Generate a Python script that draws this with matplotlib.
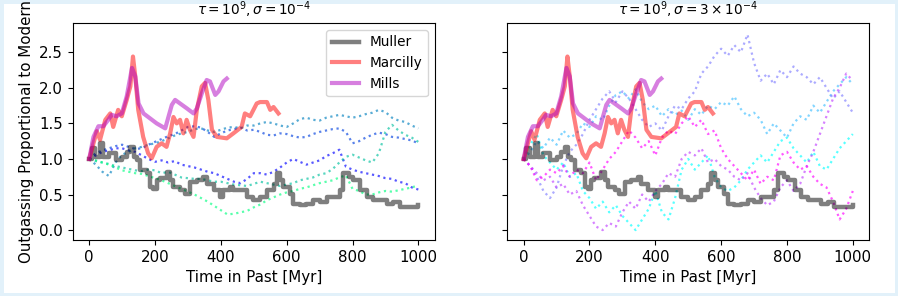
import numpy as np
import matplotlib
matplotlib.use('Agg')
import matplotlib.pyplot as plt

# time grid of the stochastic runs (Myr), one value every 20 Myr
t_run = np.linspace(0, 1000, 51)

# left panel: sigma = 1e-4
left_b2 = [1.0, 1.05, 1.1, 1.12, 1.15, 1.15, 1.12, 1.1, 1.05, 1.0, 0.96, 0.98, 0.95, 0.97, 0.92, 0.9, 0.88, 0.85,
           0.82, 0.8, 0.76, 0.72, 0.68, 0.66, 0.72, 0.8, 0.8, 0.78, 0.82, 0.88, 0.95, 1.0, 0.96, 0.92, 0.95, 0.98,
           1.04, 1.08, 1.13, 0.89, 0.85, 0.82, 0.8, 0.78, 0.76, 0.73, 0.72, 0.68, 0.66, 0.6, 0.57]
left_b1 = [1.0, 1.08, 1.12, 1.15, 1.18, 1.2, 1.17, 1.14, 1.15, 1.2, 1.24, 1.28, 1.32, 1.35, 1.4, 1.45, 1.46, 1.44,
           1.38, 1.31, 1.36, 1.4, 1.42, 1.44, 1.4, 1.41, 1.38, 1.34, 1.33, 1.36, 1.35, 1.32, 1.3, 1.31, 1.35, 1.38,
           1.4, 1.42, 1.43, 1.38, 1.22, 1.25, 1.3, 1.34, 1.37, 1.35, 1.31, 1.3, 1.28, 1.26, 1.22]
left_lb = [1.0, 0.92, 0.82, 0.76, 0.95, 1.06, 1.1, 1.15, 1.17, 1.2, 1.22, 1.25, 1.29, 1.33, 1.36, 1.38, 1.42, 1.43,
           1.4, 1.38, 1.41, 1.44, 1.45, 1.43, 1.47, 1.47, 1.5, 1.52, 1.5, 1.47, 1.45, 1.5, 1.56, 1.58, 1.55, 1.54,
           1.58, 1.6, 1.62, 1.6, 1.58, 1.6, 1.63, 1.65, 1.69, 1.66, 1.58, 1.54, 1.52, 1.47, 1.43]
left_ga = [1.0, 0.97, 0.95, 0.93, 0.9, 0.88, 0.86, 0.84, 0.83, 0.85, 0.84, 0.8, 0.82, 0.78, 0.74, 0.73, 0.72, 0.72,
           0.7, 0.68, 0.68, 0.66, 0.64, 0.63, 0.62, 0.65, 0.68, 0.66, 0.64, 0.62, 0.64, 0.66, 0.7, 0.72, 0.74, 0.78,
           0.8, 0.86, 0.95, 1.03, 1.06, 1.02, 0.98, 0.95, 1.08, 1.38, 1.48, 1.4, 1.34, 1.3, 1.24]
left_gb = [1.0, 0.98, 0.95, 0.92, 0.88, 0.84, 0.82, 0.8, 0.79, 0.76, 0.73, 0.7, 0.66, 0.62, 0.58, 0.54, 0.5, 0.45,
           0.4, 0.34, 0.28, 0.22, 0.23, 0.25, 0.27, 0.32, 0.36, 0.42, 0.46, 0.5, 0.53, 0.55, 0.58, 0.6, 0.63, 0.66,
           0.68, 0.7, 0.74, 0.77, 0.58, 0.55, 0.5, 0.5, 0.53, 0.55, 0.54, 0.56, 0.58, 0.6, 0.63]

# right panel: sigma = 3e-4
right_c = [1.0, 1.2, 1.35, 1.05, 0.95, 0.85, 0.95, 0.75, 0.8, 0.55, 0.45, 0.3, 0.4, 0.25, 0.35, 0.2, 0.1, 0.0,
           0.15, 0.3, 0.55, 0.25, 0.15, 0.45, 0.85, 1.0, 0.85, 0.95, 1.05, 0.75, 0.6, 0.55, 0.6, 0.7, 0.85, 0.95,
           1.05, 0.95, 1.1, 1.25, 1.3, 1.15, 1.05, 0.95, 1.1, 0.9, 0.85, 1.0, 1.15, 1.25, 1.35]
right_lb = [1.0, 1.1, 1.25, 1.15, 1.3, 1.2, 1.4, 1.3, 1.35, 1.5, 1.45, 1.6, 1.55, 1.75, 1.9, 1.95, 1.85, 1.98,
            1.8, 1.7, 1.75, 1.6, 1.7, 1.62, 1.68, 1.55, 1.7, 1.62, 1.75, 1.7, 1.8, 1.75, 1.88, 1.7, 1.6, 1.65,
            1.55, 1.35, 1.5, 1.4, 1.3, 1.5, 1.6, 1.55, 1.75, 1.65, 1.8, 1.95, 2.05, 2.15, 2.05]
right_mp = [1.0, 0.9, 0.75, 0.55, 0.45, 0.6, 0.9, 1.1, 1.2, 1.35, 1.55, 1.7, 1.85, 1.95, 1.8, 1.95, 1.85, 1.7,
            1.55, 1.45, 1.5, 1.4, 1.6, 1.75, 1.7, 1.85, 1.95, 2.2, 2.3, 2.45, 2.55, 2.45, 2.6, 2.5, 2.75, 2.35,
            2.1, 2.2, 2.05, 2.25, 2.15, 2.3, 2.2, 2.15, 2.05, 2.15, 2.0, 1.85, 1.95, 1.8, 1.65]
right_v = [1.0, 0.9, 0.8, 0.7, 0.75, 0.6, 0.65, 0.5, 0.55, 0.35, 0.2, 0.05, 0.0, 0.1, 0.05, 0.25, 0.4, 0.3,
           0.5, 0.4, 0.55, 0.65, 0.8, 0.75, 1.0, 1.1, 1.05, 1.15, 0.95, 1.0, 0.9, 0.85, 0.75, 0.7, 0.8, 0.6,
           0.45, 0.35, 0.4, 0.6, 0.7, 0.55, 0.65, 0.9, 1.1, 1.35, 1.6, 1.85, 2.0, 2.2, 2.1]
right_m = [1.0, 0.9, 0.7, 0.75, 0.85, 0.8, 0.9, 0.75, 0.85, 0.8, 0.95, 0.7, 0.85, 1.0, 1.1, 1.25, 1.4, 1.3,
           1.15, 1.25, 1.05, 1.3, 1.4, 1.35, 1.5, 1.6, 1.45, 1.55, 1.35, 1.4, 1.15, 1.0, 0.9, 0.8, 0.7, 0.85,
           0.65, 0.75, 0.7, 1.05, 1.1, 0.95, 0.85, 0.9, 0.75, 0.65, 0.6, 0.4, 0.15, 0.3, 0.55]

# proxy reconstructions
muller_t = [0, 8, 18, 33, 43, 60, 80, 100, 114, 125, 135, 145, 155, 175, 185, 195, 205, 215, 236, 246,
            256, 276, 290, 307, 327, 347, 357, 378, 398, 408, 428, 438, 459, 479, 499, 520, 540, 560, 570, 580,
            590, 610, 620, 640, 660, 681, 700, 722, 742, 762, 772, 790, 803, 823, 843, 863, 884, 904, 924, 944,
            970, 1000]
muller_v = [1.0, 1.15, 1.03, 1.22, 1.03, 1.08, 0.98, 1.03, 1.1, 1.17, 1.03, 0.98, 0.84, 0.8, 0.61, 0.58, 0.7, 0.73,
            0.82, 0.7, 0.6, 0.56, 0.51, 0.68, 0.7, 0.75, 0.65, 0.56, 0.47, 0.56, 0.61, 0.56, 0.56, 0.47, 0.42, 0.47,
            0.56, 0.65, 0.8, 0.7, 0.61, 0.51, 0.37, 0.35, 0.37, 0.42, 0.4, 0.47, 0.47, 0.56, 0.8, 0.75, 0.7, 0.56,
            0.47, 0.42, 0.42, 0.37, 0.4, 0.33, 0.33, 0.35]
marcilly_t = [0, 13, 23, 33, 49, 64, 73, 88, 99, 114, 125, 133, 140, 149, 164, 179, 190, 205, 220, 235,
              246, 256, 266, 276, 286, 296, 306, 317, 327, 342, 352, 362, 373, 388, 418, 438, 463, 473, 489, 509,
              519, 540, 550, 560, 575]
marcilly_v = [1.0, 1.22, 1.39, 1.27, 1.55, 1.64, 1.45, 1.69, 1.6, 1.83, 2.02, 2.44, 2.16, 1.69, 1.31, 1.08, 1.01,
              1.17, 1.22, 1.17, 1.36, 1.59, 1.5, 1.55, 1.36, 1.55, 1.41, 1.31, 1.69, 2.02, 2.07, 1.83, 1.41, 1.31,
              1.29, 1.36, 1.45, 1.64, 1.6, 1.78, 1.8, 1.8, 1.69, 1.73, 1.64]
mills_t = [0, 13, 28, 43, 58, 68, 83, 99, 114, 130, 140, 150, 165, 185, 205, 231, 251, 261, 276, 297,
           317, 327, 342, 357, 367, 383, 393, 408, 418]
mills_v = [1.0, 1.31, 1.46, 1.46, 1.55, 1.62, 1.6, 1.64, 1.88, 2.28, 2.16, 1.78, 1.64, 1.57, 1.5, 1.43, 1.76, 1.83,
           1.78, 1.71, 1.64, 1.71, 1.92, 2.11, 2.09, 1.9, 1.95, 2.09, 2.13]

titles = [r'$\tau = 10^9, \sigma = 10^{-4}$', r'$\tau = 10^9, \sigma = 3 \times 10^{-4}$']
runs = [[left_b2, left_b1, left_lb, left_ga, left_gb],
        [right_c, right_lb, right_mp, right_v, right_m]]
cmaps = [plt.cm.winter, plt.cm.cool]

plt.rcParams['font.size'] = 10.8

fig, axs = plt.subplots(1, 2, figsize=(8.98, 2.96), dpi=100, sharey=True)
fig.subplots_adjust(left=0.081, right=0.968, bottom=0.189, top=0.922, wspace=0.2)
fig.patch.set_edgecolor('#e2f1fa')
fig.patch.set_linewidth(5)

for k, ax in enumerate(axs):
    cols = cmaps[k](np.linspace(0, 1, 5))
    for i, run in enumerate(runs[k]):
        ax.plot(t_run, run, ls=':', lw=1.6, color=cols[i], alpha=0.65)
    ax.plot(muller_t, muller_v, color='k', alpha=0.5, lw=3.2, drawstyle='steps-post', label='Muller')
    ax.plot(marcilly_t, marcilly_v, color='r', alpha=0.5, lw=3, label='Marcilly')
    ax.plot(mills_t, mills_v, color='#b000c0', alpha=0.5, lw=3, label='Mills')
    ax.set_title(titles[k], fontsize=9.8)
    ax.set_xlabel('Time in Past [Myr]')
    ax.set_xlim(-50, 1050)
    ax.set_xticks([0, 200, 400, 600, 800, 1000])

axs[0].set_ylim(-0.14, 2.91)
axs[0].set_yticks([0.0, 0.5, 1.0, 1.5, 2.0, 2.5])
axs[0].set_ylabel('Outgassing Proportional to Modern')
axs[0].legend(loc='upper right', fontsize=9.8)

fig.savefig('out.png', dpi=100, edgecolor=fig.get_edgecolor())
